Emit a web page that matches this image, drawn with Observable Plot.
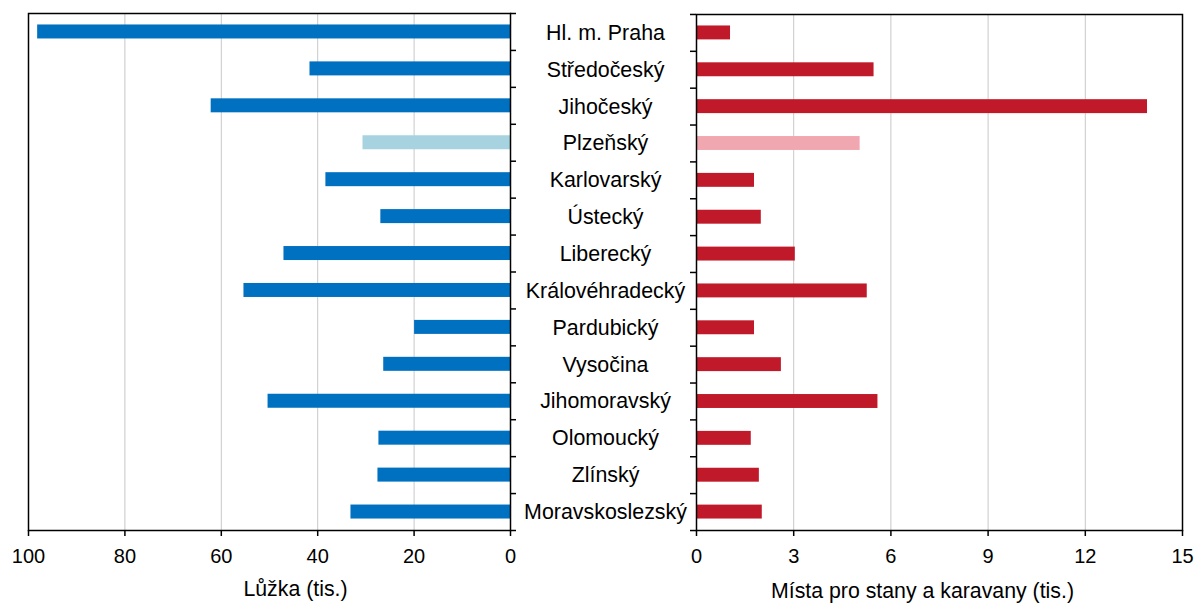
<!DOCTYPE html>
<html><head><meta charset="utf-8">
<script src="https://cdn.jsdelivr.net/npm/d3@7"></script>
<script src="https://cdn.jsdelivr.net/npm/@observablehq/plot@0.6"></script>
<style>
html,body{margin:0;padding:0;background:#fff}
#wrap{display:flex;width:1194px;height:607px;overflow:hidden}
svg{font-family:"Liberation Sans",Arial,sans-serif;overflow:visible}
</style></head><body><div id="wrap"></div>
<script>
const regions = ["Hl. m. Praha","Středočeský","Jihočeský","Plzeňský","Karlovarský","Ústecký","Liberecký","Královéhradecký","Pardubický","Vysočina","Jihomoravský","Olomoucký","Zlínský","Moravskoslezský"];
const beds = [98.1, 41.6, 62.1, 30.6, 38.3, 26.9, 47.0, 55.3, 19.9, 26.3, 50.3, 27.3, 27.5, 33.1];
const camps = [1.05, 5.48, 13.92, 5.05, 1.79, 2.0, 3.05, 5.27, 1.79, 2.62, 5.6, 1.69, 1.94, 2.03];
const highlight = "Plzeňský";
const bedTicks = [0, 20, 40, 60, 80, 100];
const campTicks = [0, 3, 6, 9, 12, 15];
const bedLabel = "Lůžka (tis.)";
const campLabel = "Místa pro stany a karavany (tis.)";

const H = 607, MT = 13, MB = 77;
const step = (H - MT - MB) / regions.length;
const inset = (step - 14) / 2;
const rows = regions.map((r, i) => ({region: r, beds: beds[i], camps: camps[i], hl: r === highlight}));
const font = '"Liberation Sans", Arial, sans-serif';
const last = [regions[regions.length - 1]];

const left = Plot.plot({
  width: 540, height: H, marginLeft: 28, marginRight: 30, marginTop: MT, marginBottom: MB,
  style: {fontFamily: font, fontSize: "20px", color: "#000", background: "#fff", overflow: "visible"},
  x: {domain: [0, 100], reverse: true, axis: null},
  y: {domain: regions, padding: 0, round: false, axis: null},
  marks: [
    Plot.gridX(bedTicks.filter(t => t > 0 && t < 100), {stroke: "#c8c8c8", strokeOpacity: 1, strokeWidth: 1}),
    Plot.barX(rows, {x: "beds", y: "region", insetTop: inset, insetBottom: inset, fill: d => d.hl ? "#A6D3DF" : "#0070C0"}),
    Plot.ruleY(regions, {y: d => d, x1: 0, x2: -1.25, dy: -step / 2, stroke: "#000", strokeWidth: 1.5}),
    Plot.ruleY(last, {y: d => d, x1: 0, x2: -1.25, dy: step / 2, stroke: "#000", strokeWidth: 1.5}),
    Plot.frame({stroke: "#000", strokeWidth: 1.5}),
    Plot.axisX({ticks: bedTicks, tickSize: 6, tickPadding: 12, fontSize: 20, label: null, strokeWidth: 1.5}),
    Plot.text([bedLabel], {text: d => d, frameAnchor: "bottom", dx: 26, dy: 65, fontSize: 21.3})
  ]
});

const right = Plot.plot({
  width: 654, height: H, marginLeft: 156, marginRight: 12, marginTop: MT + 1, marginBottom: MB,
  style: {fontFamily: font, fontSize: "20px", color: "#000", background: "#fff", overflow: "visible"},
  x: {domain: [0, 15], axis: null},
  y: {domain: regions, padding: 0, round: false, axis: null},
  marks: [
    Plot.gridX(campTicks.filter(t => t > 0 && t < 15), {stroke: "#c8c8c8", strokeOpacity: 1, strokeWidth: 1}),
    Plot.barX(rows, {x: "camps", y: "region", insetTop: inset, insetBottom: inset, fill: d => d.hl ? "#F1A7B0" : "#C0192A"}),
    Plot.ruleY(regions, {y: d => d, x1: 0, x2: -0.185, dy: -step / 2, stroke: "#000", strokeWidth: 1.5}),
    Plot.ruleY(last, {y: d => d, x1: 0, x2: -0.185, dy: step / 2, stroke: "#000", strokeWidth: 1.5}),
    Plot.frame({stroke: "#000", strokeWidth: 1.5}),
    Plot.axisX({ticks: campTicks, tickSize: 6, tickPadding: 12, fontSize: 20, label: null, strokeWidth: 1.5}),
    Plot.text(regions, {y: d => d, text: d => d, frameAnchor: "left", dx: -91, textAnchor: "middle", fontSize: 21.4}),
    Plot.text([campLabel], {text: d => d, frameAnchor: "bottom", dx: -17, dy: 67, fontSize: 21.3})
  ]
});

document.getElementById("wrap").append(left, right);
</script></body></html>
